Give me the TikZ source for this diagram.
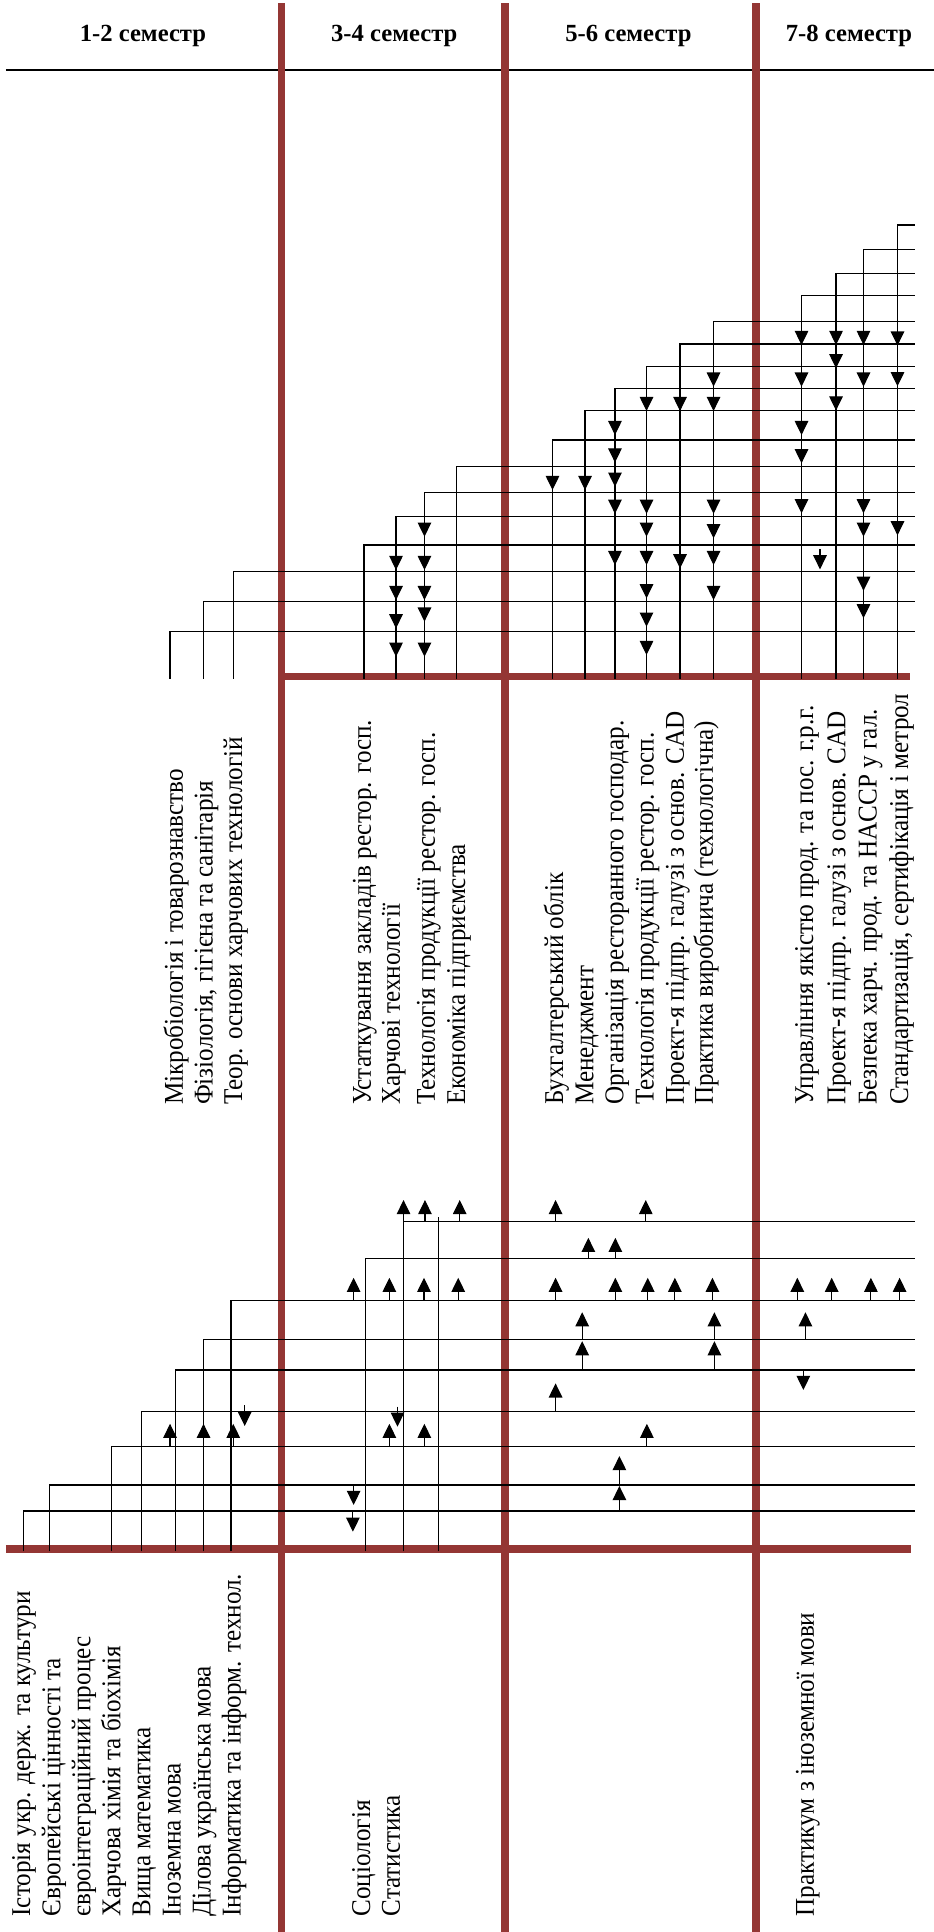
\documentclass[tikz,border=0pt]{standalone}
\usepackage{fontspec}
\setmainfont{Liberation Serif}
\usetikzlibrary{arrows.meta}

\definecolor{semred}{RGB}{148,54,52}

\begin{document}
\begin{tikzpicture}[
    x=1pt, y=-1pt,
    redbar/.style={semred, line width=6pt},
    link/.style={line width=0.9pt},
    dep/.style={link, -{Triangle[width=11pt,length=11.5pt]}},
    subj/.style={rotate=90, yscale=1.08, anchor=base west, inner sep=0pt, font=\fontsize{20.4}{24.6}\selectfont},
    sem/.style={anchor=base, inner sep=0pt, font=\fontsize{20}{23}\selectfont\bfseries},
]
    \useasboundingbox (0,0) rectangle (758,1568);

    % Semester headers
    \foreach \x/\t [count=\i] in {116/1-2, 320/3-4, 510/5-6, 689/7-8} {
        \node[sem] (hdr-\i) at (\x, 34) {\t{} семестр};
    }
    \draw[line width=1.6pt] (4.8,56.8) -- (758,56.8);

    % Red grid
    \foreach \x in {228.6, 410, 613.6} {
        \draw[redbar] (\x,2.7) -- (\x,1568);
    }
    \draw[redbar] (228.6,549.2) -- (738.6,549.2);
    \draw[redbar] (4.8,1257.2) -- (739.5,1257.2);

    % Upper block: stems and lines
    \foreach \x/\y in {138.0/512.7, 165.2/488.3, 189.5/464.0,
                       295.4/442.3, 321.4/419.3, 344.5/399.8, 370.5/378.7,
                       448.4/357.1, 474.8/332.8, 499.1/315.2, 524.7/297.6, 551.9/279.2, 579.1/261.1,
                       650.5/240.0, 678.5/221.8, 700.8/202.4, 728.4/182.6} {
        \draw[link] (\x,551) |- (742.6,\y);
    }

    % Upper block: arrows (down)
    \foreach \x/\ys in {321.4/{462.6,487,510,533}, 344.5/{435.6,462.6,487,504.5,533},
                        448.4/{397.7}, 474.8/{397.7}, 499.1/{353.1,375.4,395,417,458.6},
                        524.7/{333.6,417,435.6,458.6,485.6,508.6,531.6}, 551.9/{333.6,461.3},
                        579.1/{313.8,333.6,417,436.9,458.6,487},
                        650.5/{280,313.8,353.1,376,416.6}, 678.5/{280,298.9,333.2},
                        700.8/{280,313.8,416.6,435.6,479.5,501.8}, 728.4/{280.5,313.5,434.5}} {
        \foreach \y in \ys {
            \draw[dep] (\x,\y-16) -- (\x,\y);
        }
    }
    \draw[dep] (665.5,445.8) -- (665.5,462.1);

    % Upper labels
    \foreach \x/\t [count=\i] in {148.5/Мікробіологія і товарознавство,
                                  172.5/{Фізіологія, гігієна та санітарія},
                                  196.5/Теор. основи харчових технологій} {
        \node[subj] (up12-\i) at (\x,897) {\t};
    }
    \foreach \x/\t [count=\i] in {301/Устаткування закладів рестор. госп.,
                                  324.6/Харчові технології,
                                  353/Технологія продукції рестор. госп.,
                                  377.4/Економіка підприємства} {
        \node[subj] (up34-\i) at (\x,897) {\t};
    }
    \foreach \x/\t [count=\i] in {457/Бухгалтерський облік,
                                  481.5/Менеджмент,
                                  506/Організація ресторанного господар.,
                                  530.5/Технологія продукції рестор. госп.,
                                  555/Проект-я підпр. галузі з основ. CAD,
                                  578.5/Практика виробнича (технологічна)} {
        \node[subj] (up56-\i) at (\x,897) {\t};
    }
    \foreach \x/\t [count=\i] in {660/Управління якістю прод. та пос. г.р.г.,
                                  686/Проект-я підпр. галузі з основ. CAD,
                                  711.5/Безпека харч. прод. та HACCP у гал.,
                                  737/{Стандартизація, сертифікація і метрол}} {
        \node[subj] (up78-\i) at (\x,897) {\t};
    }

    % Lower block: stems and lines
    \foreach \x/\y in {19.0/1226.3, 40.0/1205.2, 90.4/1173.6, 115.1/1145.2, 142.3/1111.9,
                       165.2/1087.0, 187.5/1055.6, 296.5/1021.5, 327.5/991.5} {
        \draw[link] (\x,1259) |- (742.5,\y);
    }
    \draw[dep] (327.5,991.5) -- (327.5,973.9);
    \draw[link] (356,1259) -- (356,987.4);

    % Lower block: arrows (up)
    \foreach \b/\t/\xs in {991.5/973.9/{344.9,373.1,450.9,524.1},
                           1021.5/1004.6/{477.5,499.4},
                           1055.6/1037/{287,316,344.1,371.9,450.9,499.4,525.7,547.7,578.2,647.1,675,706.8,730.1},
                           1087/1065/{472.5,579.8,653.7},
                           1111.9/1088.5/{472.5,579.8},
                           1145.2/1122.7/{450.9},
                           1173.6/1155.5/{138,165.2,189.3,316,344.4,525},
                           1205.2/1181.7/{502.7},
                           1226.3/1206/{502.7}} {
        \foreach \x in \xs {
            \draw[dep] (\x,\b) -- (\x,\t);
        }
    }

    % Lower block: arrows (down)
    \foreach \x/\a/\b in {198.6/1140.3/1157.3, 322.6/1141.6/1157.9, 287/1204.7/1221.4,
                          286.4/1226.9/1243.1, 652/1111.9/1128.1} {
        \draw[dep] (\x,\a) -- (\x,\b);
    }

    % Lower labels
    \foreach \x/\t [count=\i] in {24.5/Історія укр. держ. та культури,
                                  48.9/Європейські цінності та,
                                  73.3/євроінтеграційний процес,
                                  97.7/Харчова хімія та біохімія,
                                  122.1/Вища математика,
                                  146.5/Іноземна мова,
                                  170.9/Ділова українська мова,
                                  195.3/Інформатика та інформ. технол.} {
        \node[subj] (lo12-\i) at (\x,1555.5) {\t};
    }
    \node[subj] (lo34-1) at (300.3,1555.5) {Соціологія};
    \node[subj] (lo34-2) at (324.6,1555.5) {Статистика};
    \node[subj] (lo78-1) at (660.5,1555.5) {Практикум з іноземної мови};

\end{tikzpicture}
\end{document}
